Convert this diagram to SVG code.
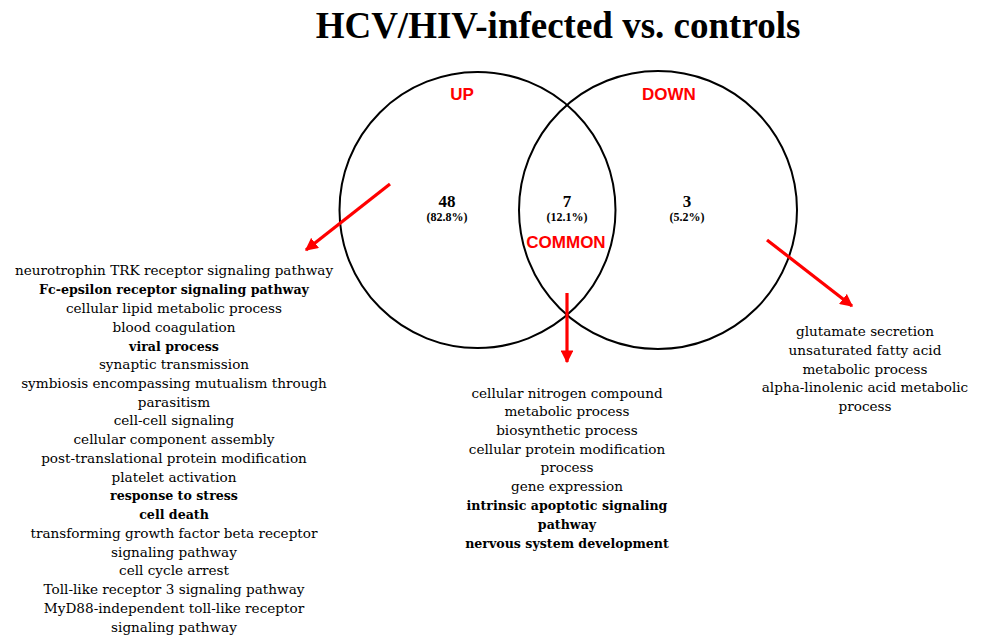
<svg xmlns="http://www.w3.org/2000/svg" width="982" height="639" viewBox="0 0 982 639">
<defs>
<marker id="ah" viewBox="0 0 10 10" refX="9" refY="5" markerWidth="4" markerHeight="4" orient="auto" markerUnits="strokeWidth">
<path d="M0,0 L10,5 L0,10 z" fill="#ff0000"/>
</marker>
<style>
.circ{fill:none;stroke:#000;stroke-width:2}
.arr{stroke:#ff0000;stroke-width:3.2;fill:none;marker-end:url(#ah)}
.lab{font-family:"Liberation Sans",Arial,sans-serif;font-weight:bold;font-size:17px;fill:#ff0000;text-anchor:middle}
.num{font-family:"Liberation Serif","Times New Roman",serif;font-weight:bold;font-size:17px;fill:#000;text-anchor:middle}
.pct{font-family:"Liberation Serif","Times New Roman",serif;font-weight:bold;font-size:12px;fill:#000;text-anchor:middle}
.lst{font-family:"DejaVu Serif","Liberation Serif",serif;font-size:13.6px;fill:#000;text-anchor:middle}
.b{font-weight:bold;font-size:12.6px}
.title{font-family:"Liberation Serif","Times New Roman",serif;font-weight:bold;font-size:37px;fill:#000;text-anchor:middle}
</style>
</defs>
<rect width="982" height="639" fill="#fff"/>
<text class="title" x="558" y="38">HCV/HIV-infected vs. controls</text>
<g id="up-set">
<circle class="circ" cx="477.5" cy="210" r="138"/>
<text class="lab" x="462" y="100">UP</text>
<text class="num" x="447" y="207">48</text>
<text class="pct" x="447" y="221">(82.8%)</text>
</g>
<g id="down-set">
<circle class="circ" cx="658" cy="210" r="139"/>
<text class="lab" x="669" y="100">DOWN</text>
<text class="num" x="687" y="207">3</text>
<text class="pct" x="687" y="221">(5.2%)</text>
</g>
<g id="common-set">
<text class="num" x="567" y="207">7</text>
<text class="pct" x="567" y="221">(12.1%)</text>
<text class="lab" x="566" y="248">COMMON</text>
</g>
<g id="connectors">
<line class="arr" x1="390" y1="184" x2="306" y2="250"/>
<line class="arr" x1="567" y1="293" x2="567" y2="362"/>
<line class="arr" x1="767" y1="240" x2="852" y2="306"/>
</g>
<g id="up-list">
<text class="lst" x="174" y="275">neurotrophin TRK receptor signaling pathway</text>
<text class="lst b" x="174" y="294">Fc-epsilon receptor signaling pathway</text>
<text class="lst" x="174" y="313">cellular lipid metabolic process</text>
<text class="lst" x="174" y="332">blood coagulation</text>
<text class="lst b" x="174" y="351">viral process</text>
<text class="lst" x="174" y="369">synaptic transmission</text>
<text class="lst" x="174" y="388">symbiosis encompassing mutualism through</text>
<text class="lst" x="174" y="407">parasitism</text>
<text class="lst" x="174" y="425">cell-cell signaling</text>
<text class="lst" x="174" y="444">cellular component assembly</text>
<text class="lst" x="174" y="463">post-translational protein modification</text>
<text class="lst" x="174" y="482">platelet activation</text>
<text class="lst b" x="174" y="500">response to stress</text>
<text class="lst b" x="174" y="519">cell death</text>
<text class="lst" x="174" y="538">transforming growth factor beta receptor</text>
<text class="lst" x="174" y="557">signaling pathway</text>
<text class="lst" x="174" y="575">cell cycle arrest</text>
<text class="lst" x="174" y="594">Toll-like receptor 3 signaling pathway</text>
<text class="lst" x="174" y="613">MyD88-independent toll-like receptor</text>
<text class="lst" x="174" y="632">signaling pathway</text>
</g>
<g id="common-list">
<text class="lst" x="567" y="398">cellular nitrogen compound</text>
<text class="lst" x="567" y="416">metabolic process</text>
<text class="lst" x="567" y="435">biosynthetic process</text>
<text class="lst" x="567" y="454">cellular protein modification</text>
<text class="lst" x="567" y="472">process</text>
<text class="lst" x="567" y="491">gene expression</text>
<text class="lst b" x="567" y="510">intrinsic apoptotic signaling</text>
<text class="lst b" x="567" y="529">pathway</text>
<text class="lst b" x="567" y="548">nervous system development</text>
</g>
<g id="down-list">
<text class="lst" x="865" y="336">glutamate secretion</text>
<text class="lst" x="865" y="355">unsaturated fatty acid</text>
<text class="lst" x="865" y="374">metabolic process</text>
<text class="lst" x="865" y="392">alpha-linolenic acid metabolic</text>
<text class="lst" x="865" y="411">process</text>
</g>
</svg>
